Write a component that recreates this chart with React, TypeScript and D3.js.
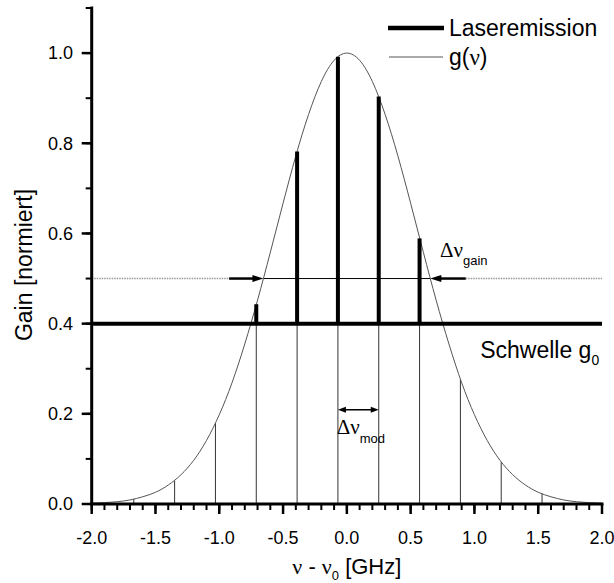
import * as d3 from 'd3'
import { FC } from 'react'

const WIDTH = 614
const HEIGHT = 583
const X_RANGE = [91.7, 602]
const Y_RANGE = [504, 8]

// g(nu), every 0.1 GHz
const curveNu = [
  -2.0, -1.9, -1.8, -1.7, -1.6, -1.5, -1.4, -1.3, -1.2, -1.1, -1.0,
  -0.9, -0.8, -0.7, -0.6, -0.5, -0.4, -0.3, -0.2, -0.1, 0.0,
  0.1, 0.2, 0.3, 0.4, 0.5, 0.6, 0.7, 0.8, 0.9, 1.0,
  1.1, 1.2, 1.3, 1.4, 1.5, 1.6, 1.7, 1.8, 1.9, 2.0,
]
const curveGain = [
  0.002, 0.003, 0.005, 0.009, 0.016, 0.026, 0.042, 0.065, 0.097, 0.141, 0.198,
  0.269, 0.355, 0.452, 0.558, 0.667, 0.772, 0.864, 0.937, 0.984, 1.0,
  0.984, 0.937, 0.864, 0.772, 0.667, 0.558, 0.452, 0.355, 0.269, 0.198,
  0.141, 0.097, 0.065, 0.042, 0.026, 0.016, 0.009, 0.005, 0.003, 0.002,
]

// resonator modes
const modeNu = [-1.67, -1.35, -1.03, -0.71, -0.39, -0.07, 0.25, 0.57, 0.89, 1.21, 1.53]
const modeGain = [0.011, 0.052, 0.179, 0.443, 0.782, 0.992, 0.904, 0.589, 0.277, 0.093, 0.023]

const THRESHOLD = 0.4
const HALF_MAX = 0.5
const FWHM_EDGES = [-0.654, 0.654]
const GAIN_ARROW_TAILS = [-0.923, 0.932]
const MOD_ARROW_Y = 0.209

const xTickLabels = ['-2.0', '-1.5', '-1.0', '-0.5', '0.0', '0.5', '1.0', '1.5', '2.0']
const yTickLabels = ['0.0', '0.2', '0.4', '0.6', '0.8', '1.0']

const FONT = "'Liberation Sans', Arial, sans-serif"
const SERIF = "'Liberation Serif', 'Times New Roman', serif"

// filled arrowhead with its tip at (x, y), pointing in direction dir (+1 right, -1 left)
const arrowHead = (x: number, y: number, dir: number, len: number, half: number) =>
  `${x},${y} ${x - dir * len},${y - half} ${x - dir * len},${y + half}`

const App: FC = () => {
  const xScale = d3.scaleLinear().domain([-2, 2]).range(X_RANGE)
  const yScale = d3.scaleLinear().domain([0, 1.1]).range(Y_RANGE)

  const line = d3
    .line<number>()
    .x((_, i) => xScale(curveNu[i]))
    .y((d) => yScale(d))
    .curve(d3.curveNatural)

  const xMajor = xTickLabels.map(Number)
  const xMinor = d3.range(-20, 21).map((d) => d / 10)
  const yMajor = yTickLabels.map(Number)
  const yMinor = d3.range(0, 12).map((d) => d / 10)

  const y0 = yScale(0)
  const yThr = yScale(THRESHOLD)
  const yHalf = yScale(HALF_MAX)
  const yMod = yScale(MOD_ARROW_Y)

  return (
    <svg
      width={ WIDTH }
      height={ HEIGHT }
      style={{ position: 'absolute', left: 0, top: 0, background: '#fff' }}
      fontFamily={ FONT }
    >
      {/* thin mode lines, up to the curve or to the threshold */}
      { modeNu.map((nu, i) => (
        <line
          key={ 'm' + i }
          x1={ xScale(nu) }
          x2={ xScale(nu) }
          y1={ y0 }
          y2={ yScale(Math.min(modeGain[i], THRESHOLD)) }
          stroke='#333'
          strokeWidth={ 1 }
        />
      )) }

      {/* half maximum line */}
      <line x1={ xScale(-2) } x2={ xScale(GAIN_ARROW_TAILS[0]) } y1={ yHalf } y2={ yHalf }
        stroke='#999' strokeWidth={ 1.5 } strokeDasharray='1.5 1' />
      <line x1={ xScale(GAIN_ARROW_TAILS[1]) } x2={ xScale(2) } y1={ yHalf } y2={ yHalf }
        stroke='#999' strokeWidth={ 1.5 } strokeDasharray='1.5 1' />
      <line x1={ xScale(FWHM_EDGES[0]) } x2={ xScale(FWHM_EDGES[1]) } y1={ yHalf } y2={ yHalf }
        stroke='#000' strokeWidth={ 1 } />
      <line x1={ xScale(GAIN_ARROW_TAILS[0]) } x2={ xScale(FWHM_EDGES[0]) - 8 } y1={ yHalf } y2={ yHalf }
        stroke='#000' strokeWidth={ 2.5 } />
      <polygon points={ arrowHead(xScale(FWHM_EDGES[0]), yHalf, 1, 11, 3.5) } fill='#000' />
      <line x1={ xScale(GAIN_ARROW_TAILS[1]) } x2={ xScale(FWHM_EDGES[1]) + 8 } y1={ yHalf } y2={ yHalf }
        stroke='#000' strokeWidth={ 2.5 } />
      <polygon points={ arrowHead(xScale(FWHM_EDGES[1]), yHalf, -1, 11, 3.5) } fill='#000' />

      {/* gain curve */}
      <path d={ line(curveGain) ?? '' } fill='none' stroke='#555' strokeWidth={ 1 } />

      {/* threshold */}
      <line x1={ xScale(-2) } x2={ xScale(2) } y1={ yThr } y2={ yThr } stroke='#000' strokeWidth={ 4 } />

      {/* laser emission bars */}
      { modeNu.map((nu, i) =>
        modeGain[i] > THRESHOLD ? (
          <line
            key={ 'l' + i }
            x1={ xScale(nu) }
            x2={ xScale(nu) }
            y1={ yThr }
            y2={ yScale(modeGain[i]) }
            stroke='#000'
            strokeWidth={ 4 }
          />
        ) : null
      ) }

      {/* mode spacing arrow */}
      <line x1={ xScale(modeNu[5]) + 6 } x2={ xScale(modeNu[6]) - 6 } y1={ yMod } y2={ yMod }
        stroke='#000' strokeWidth={ 1.5 } />
      <polygon points={ arrowHead(xScale(modeNu[5]), yMod, -1, 8, 3) } fill='#000' />
      <polygon points={ arrowHead(xScale(modeNu[6]), yMod, 1, 8, 3) } fill='#000' />

      {/* annotations */}
      <text x={ xScale(-0.08) } y={ yScale(0.155) } fontSize={ 21 }>
        <tspan fontFamily={ SERIF }>Δν</tspan>
        <tspan fontSize={ 13 } dy={ 9 }>mod</tspan>
      </text>
      <text x={ xScale(0.73) } y={ yScale(0.548) } fontSize={ 21 }>
        <tspan fontFamily={ SERIF }>Δν</tspan>
        <tspan fontSize={ 13 } dy={ 8 }>gain</tspan>
      </text>
      <text x={ xScale(1.045) } y={ yScale(0.324) } fontSize={ 23 }>
        Schwelle g<tspan fontSize={ 14 } dy={ 7 }>0</tspan>
      </text>

      {/* x axis */}
      <line x1={ X_RANGE[0] - 1.5 } x2={ X_RANGE[1] + 1.5 } y1={ y0 } y2={ y0 } stroke='#000' strokeWidth={ 3 } />
      { xMinor.map((d) => (
        <line key={ 'xm' + d } x1={ xScale(d) } x2={ xScale(d) } y1={ y0 } y2={ y0 + 6 }
          stroke='#000' strokeWidth={ 2 } />
      )) }
      { xMajor.map((d, i) => (
        <g key={ 'xM' + d }>
          <line x1={ xScale(d) } x2={ xScale(d) } y1={ y0 } y2={ y0 + 10 } stroke='#000' strokeWidth={ 2.5 } />
          <text x={ xScale(d) } y={ y0 + 40 } textAnchor='middle' fontSize={ 18 }>{ xTickLabels[i] }</text>
        </g>
      )) }
      <text x={ xScale(0) } y={ 574 } textAnchor='middle' fontSize={ 22 }>
        <tspan fontFamily={ SERIF }>ν</tspan> - <tspan fontFamily={ SERIF }>ν</tspan>
        <tspan fontSize={ 13 } dy={ 6 }>0</tspan>
        <tspan dy={ -6 }> [GHz]</tspan>
      </text>

      {/* y axis */}
      <line x1={ X_RANGE[0] } x2={ X_RANGE[0] } y1={ y0 + 1.5 } y2={ yScale(1.1) - 1.5 } stroke='#000' strokeWidth={ 3 } />
      { yMinor.map((d) => (
        <line key={ 'ym' + d } x1={ X_RANGE[0] - 6 } x2={ X_RANGE[0] } y1={ yScale(d) } y2={ yScale(d) }
          stroke='#000' strokeWidth={ 2 } />
      )) }
      { yMajor.map((d, i) => (
        <g key={ 'yM' + d }>
          <line x1={ X_RANGE[0] - 10 } x2={ X_RANGE[0] } y1={ yScale(d) } y2={ yScale(d) } stroke='#000' strokeWidth={ 2.5 } />
          <text x={ 73 } y={ yScale(d) } dy='0.35em' textAnchor='end' fontSize={ 18 }>{ yTickLabels[i] }</text>
        </g>
      )) }
      <text transform={ `translate(32,${yScale(0.53)}) rotate(-90)` } textAnchor='middle' fontSize={ 23 }>
        Gain [normiert]
      </text>

      {/* legend */}
      <line x1={ 388 } x2={ 444 } y1={ 28 } y2={ 28 } stroke='#000' strokeWidth={ 4.5 } />
      <text x={ 449 } y={ 36 } fontSize={ 23 }>Laseremission</text>
      <line x1={ 389 } x2={ 443 } y1={ 57 } y2={ 57 } stroke='#555' strokeWidth={ 1 } />
      <text x={ 449 } y={ 65 } fontSize={ 23 }>
        g(<tspan fontFamily={ SERIF }>ν</tspan>)
      </text>
    </svg>
  )
}

export default App
